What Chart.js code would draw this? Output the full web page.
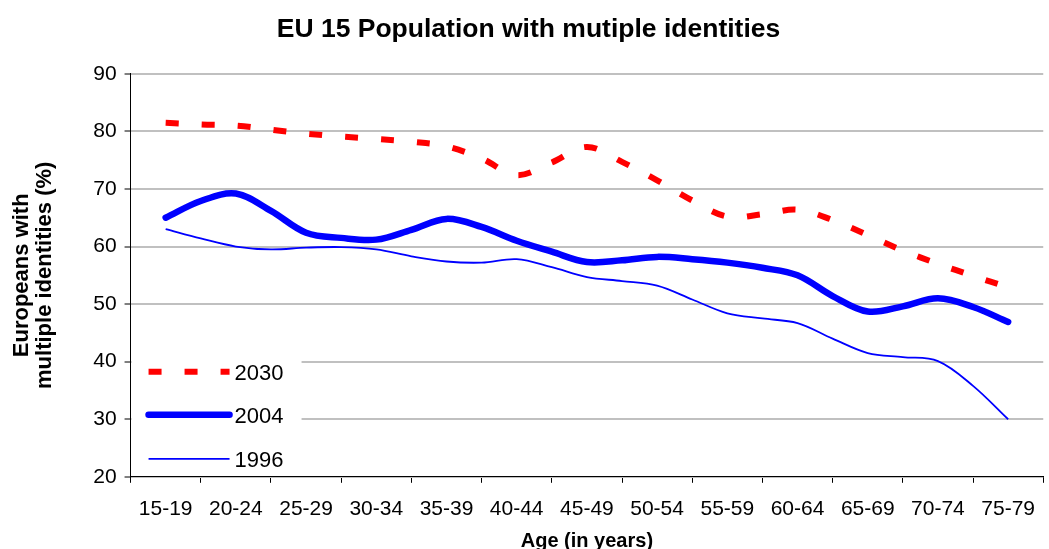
<!DOCTYPE html>
<html>
<head>
<meta charset="utf-8">
<script src="https://cdn.jsdelivr.net/npm/chart.js@4.4.1/dist/chart.umd.min.js"></script>
<style>
  html, body { margin: 0; padding: 0; background: #fff; overflow: hidden; }
  #wrap { width: 1049px; height: 553px; }
</style>
</head>
<body>
<div id="wrap"><canvas id="identityChart"></canvas></div>
<script>
// age groups shown on the x axis
const ageGroups = ['15-19', '20-24', '25-29', '30-34', '35-39', '40-44', '45-49',
  '50-54', '55-59', '60-64', '65-69', '70-74', '75-79'];

// values read every half age group (15-19, between, 20-24, ...)
const pop2030 = [81.5, 81.2, 81.0, 80.3, 79.6, 79.1, 78.7, 78.2, 77.4, 75.3, 72.4, 74.6, 77.3,
  74.7, 71.5, 68.0, 65.2, 65.6, 66.4, 64.6, 62.0, 59.3, 57.0, 54.9, 52.9];
const pop2004 = [65.0, 67.9, 69.2, 66.2, 62.4, 61.5, 61.2, 62.9, 64.8, 63.4, 61.0, 59.1, 57.3,
  57.6, 58.2, 57.8, 57.2, 56.3, 55.0, 51.4, 48.7, 49.6, 51.0, 49.5, 46.9];
const pop1996 = [63.0, 61.4, 60.0, 59.5, 59.8, 59.9, 59.5, 58.3, 57.4, 57.2, 57.8, 56.4, 54.7,
  54.0, 53.2, 50.8, 48.4, 47.5, 46.7, 44.0, 41.5, 40.8, 40.1, 35.8, 30.0];

const yTicks = [20, 30, 40, 50, 60, 70, 80, 90];

const FONT = "'Liberation Sans', Arial, sans-serif";

// put each value at its half-step position on the hidden linear axis
function toPoints(arr) {
  return arr.map((v, i) => ({ x: i / 2, y: v }));
}

const series = [
  { label: '2030', data: pop2030, color: '#ff0000', width: 6, dash: [13, 23], cap: 'butt' },
  { label: '2004', data: pop2004, color: '#0000ff', width: 6.5, dash: [], cap: 'round' },
  { label: '1996', data: pop1996, color: '#0000ff', width: 1.8, dash: [], cap: 'butt' }
];

// legend drawn inside the plot, bottom left, on a white box
const insideLegend = {
  id: 'insideLegend',
  afterDatasetsDraw(chart) {
    const ctx = chart.ctx;
    const a = chart.chartArea;
    ctx.save();
    ctx.fillStyle = '#fff';
    ctx.fillRect(a.left + 1, a.bottom - 136, 170, 135);
    const rows = [a.bottom - 105, a.bottom - 62, a.bottom - 18];
    series.forEach((s, i) => {
      const y = rows[i];
      ctx.beginPath();
      ctx.strokeStyle = s.color;
      ctx.lineWidth = s.width;
      ctx.lineCap = s.cap;
      ctx.setLineDash(s.dash);
      ctx.moveTo(a.left + 18, y);
      ctx.lineTo(a.left + 99, y);
      ctx.stroke();
      ctx.setLineDash([]);
      ctx.fillStyle = '#000';
      ctx.font = '22px ' + FONT;
      ctx.textBaseline = 'middle';
      ctx.textAlign = 'left';
      ctx.fillText(s.label, a.left + 104, y + 2);
    });
    ctx.restore();
  }
};

const ctx = document.getElementById('identityChart').getContext('2d');
const identityChart = new Chart(ctx, {
  type: 'line',
  data: {
    labels: ageGroups,
    datasets: series.map(s => ({
      label: s.label,
      data: toPoints(s.data),
      xAxisID: 'xData',
      borderColor: s.color,
      borderWidth: s.width,
      borderDash: s.dash,
      borderCapStyle: s.cap,
      borderJoinStyle: 'round',
      tension: 0.35,
      pointRadius: 0,
      fill: false
    }))
  },
  options: {
    responsive: true,
    maintainAspectRatio: false,
    animation: false,
    layout: { padding: { left: 8, right: 0, top: 0, bottom: 0 } },
    plugins: {
      legend: { display: false },
      tooltip: { enabled: false },
      title: {
        display: true,
        text: 'EU 15 Population with mutiple identities',
        color: '#000',
        font: { family: FONT, size: 26.5, weight: 'bold' },
        padding: { top: 14, bottom: 28 }
      }
    },
    scales: {
      x: {
        type: 'category',
        offset: true,
        grid: {
          display: true,
          drawOnChartArea: false,
          offset: true,
          tickLength: 6,
          color: '#000'
        },
        border: { display: true, color: '#000', width: 1 },
        ticks: {
          color: '#000',
          font: { family: FONT, size: 21 },
          padding: 14,
          maxRotation: 0,
          autoSkip: false
        },
        title: {
          display: true,
          text: 'Age (in years)',
          color: '#000',
          font: { family: FONT, size: 20, weight: 'bold' },
          padding: { top: -7, bottom: 0 }
        }
      },
      xData: {
        type: 'linear',
        display: false,
        min: -0.5,
        max: ageGroups.length - 0.5
      },
      y: {
        min: yTicks[0],
        max: yTicks[yTicks.length - 1],
        afterBuildTicks(scale) {
          scale.ticks = yTicks.map(v => ({ value: v }));
        },
        grid: {
          color: '#c0c0c0',
          lineWidth: 2,
          tickLength: 6,
          tickColor: '#000',
          tickWidth: 1
        },
        border: { display: true, color: '#000', width: 1 },
        ticks: {
          color: '#000',
          font: { family: FONT, size: 21 },
          padding: 8
        },
        title: {
          display: true,
          text: ['Europeans with', 'multiple identities (%)'],
          color: '#000',
          font: { family: FONT, size: 22, weight: 'bold', lineHeight: 1.05 },
          padding: { top: 2, bottom: 29 }
        }
      }
    }
  },
  plugins: [insideLegend]
});
</script>
</body>
</html>
